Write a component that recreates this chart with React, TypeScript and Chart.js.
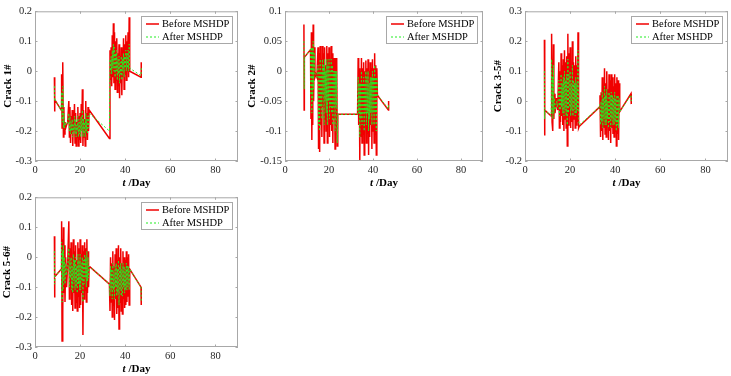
import React, { useEffect, useRef } from 'react';
import { Chart, registerables } from 'chart.js';

Chart.register(...registerables);

// ---------- data ----------
const T = [
  8.6, 8.7, 8.8,
  11.6, 11.8, 12.0, 12.2, 12.4, 12.6, 12.8, 13.0, 13.3, 13.6, 14.0, 14.5,
  15.0, 15.25, 15.5, 15.75, 16.0, 16.25, 16.5, 16.75, 17.0, 17.25, 17.5, 17.75, 18.0, 18.25, 18.5, 18.75,
  19.0, 19.25, 19.5, 19.75, 20.0, 20.25, 20.5, 20.75, 21.0, 21.25, 21.5, 21.75, 22.0, 22.25, 22.5, 22.75,
  23.0, 23.25, 23.5, 23.75, 24.0,
  33.0, 33.25, 33.5, 33.75, 34.0, 34.25, 34.5, 34.75, 35.0, 35.25, 35.5, 35.75, 36.0, 36.25, 36.5, 36.75,
  37.0, 37.25, 37.5, 37.75, 38.0, 38.25, 38.5, 38.75, 39.0, 39.25, 39.5, 39.75, 40.0, 40.25, 40.5, 40.75,
  41.0, 41.25, 41.5, 41.75, 42.0,
  47.0, 47.1,
];

const CRACK1_BEFORE = [
  -0.02, -0.135, -0.095,
  -0.13, -0.01, -0.19, -0.14, 0.03, -0.22, -0.12, -0.21, -0.17, -0.19, -0.18, -0.17,
  -0.10, -0.22, -0.12, -0.24, -0.15, -0.21, -0.13, -0.25, -0.16, -0.20, -0.11, -0.24, -0.14, -0.25, -0.17, -0.22,
  -0.12, -0.25, -0.15, -0.23, -0.14, -0.24, -0.11, -0.20, -0.06, -0.25, -0.13, -0.22, -0.16, -0.25, -0.10, -0.21,
  -0.14, -0.23, -0.12, -0.20, -0.13,
  -0.225, 0.07, -0.03, 0.08, -0.05, 0.12, -0.02, 0.16, -0.04, 0.13, -0.06, 0.10, -0.03, 0.11, -0.07, 0.06,
  -0.05, 0.09, -0.09, 0.05, -0.04, 0.08, -0.08, 0.07, -0.02, 0.11, -0.06, 0.09, -0.01, 0.12, -0.03, 0.10,
  0.00, 0.13, -0.02, 0.18, 0.00,
  -0.02, 0.03,
];
const CRACK1_AFTER = [
  -0.05, -0.10, -0.095,
  -0.13, -0.07, -0.17, -0.14, -0.05, -0.19, -0.14, -0.19, -0.17, -0.18, -0.18, -0.17,
  -0.14, -0.20, -0.15, -0.21, -0.17, -0.20, -0.16, -0.22, -0.18, -0.20, -0.15, -0.21, -0.16, -0.22, -0.18, -0.20,
  -0.15, -0.22, -0.17, -0.21, -0.16, -0.22, -0.15, -0.20, -0.13, -0.22, -0.16, -0.21, -0.17, -0.22, -0.14, -0.20,
  -0.16, -0.21, -0.15, -0.19, -0.14,
  -0.20, 0.04, 0.00, 0.05, -0.01, 0.07, 0.01, 0.09, 0.00, 0.08, -0.02, 0.06, 0.00, 0.07, -0.03, 0.04,
  -0.01, 0.05, -0.04, 0.03, -0.01, 0.05, -0.03, 0.04, 0.00, 0.06, -0.02, 0.05, 0.01, 0.07, 0.00, 0.06,
  0.01, 0.07, 0.00, 0.09, 0.01,
  -0.015, 0.01,
];

const CRACK2_BEFORE = [
  0.078, -0.065, 0.023,
  0.036, -0.08, 0.065, -0.115, 0.062, -0.09, 0.078, -0.05, 0.04, -0.01, -0.005, -0.01,
  0.04, -0.13, 0.03, -0.135, 0.042, -0.09, 0.02, -0.11, 0.042, -0.06, 0.03, -0.12, 0.04, -0.08, 0.01, -0.10,
  0.042, -0.12, 0.03, -0.07, 0.04, -0.11, 0.02, -0.09, 0.042, -0.10, 0.03, -0.12, 0.022, -0.08, 0.022, -0.13,
  0.022, -0.09, 0.022, -0.125, -0.072,
  -0.072, 0.022, -0.09, 0.005, -0.15, 0.0, -0.11, 0.022, -0.12, 0.005, -0.10, 0.015, -0.14, 0.0, -0.09, 0.018,
  -0.12, 0.005, -0.10, 0.02, -0.14, 0.0, -0.11, 0.015, -0.09, 0.005, -0.13, 0.02, -0.10, 0.005, -0.12, 0.03,
  -0.10, 0.01, -0.14, 0.005, -0.04,
  -0.065, -0.05,
];
const CRACK2_AFTER = [
  0.05, -0.03, 0.023,
  0.036, -0.04, 0.04, -0.07, 0.04, -0.05, 0.05, -0.03, 0.03, -0.005, -0.005, -0.01,
  0.01, -0.09, 0.00, -0.10, 0.02, -0.06, 0.00, -0.08, 0.02, -0.04, 0.01, -0.09, 0.02, -0.05, 0.00, -0.07,
  0.02, -0.09, 0.01, -0.05, 0.02, -0.08, 0.00, -0.06, 0.02, -0.07, 0.01, -0.09, 0.00, -0.06, 0.00, -0.10,
  0.00, -0.06, 0.00, -0.12, -0.072,
  -0.072, -0.01, -0.07, -0.02, -0.11, -0.02, -0.08, 0.00, -0.09, -0.02, -0.07, -0.01, -0.10, -0.02, -0.07, 0.00,
  -0.09, -0.01, -0.07, 0.00, -0.10, -0.02, -0.08, -0.01, -0.07, -0.01, -0.09, 0.00, -0.07, -0.01, -0.09, 0.01,
  -0.07, -0.01, -0.10, -0.01, -0.04,
  -0.063, -0.055,
];

const CRACK35_BEFORE = [
  0.205, -0.115, -0.03,
  -0.05, 0.225, -0.07, 0.14, -0.10, 0.19, -0.06, 0.025, -0.04, -0.02, 0.01, -0.03,
  0.13, -0.09, 0.10, -0.07, 0.16, -0.05, 0.12, -0.08, 0.14, -0.10, 0.17, -0.06, 0.13, -0.09, 0.15, -0.15,
  0.225, -0.08, 0.16, -0.05, 0.18, -0.09, 0.12, -0.07, 0.20, -0.10, 0.13, -0.06, 0.12, -0.09, 0.15, -0.08,
  0.12, -0.07, 0.23, -0.09, -0.085,
  -0.02, 0.02, -0.12, 0.03, -0.10, 0.08, -0.13, 0.05, -0.09, 0.11, -0.11, 0.06, -0.12, 0.10, -0.08, 0.04,
  -0.13, 0.09, -0.10, 0.07, -0.14, 0.09, -0.09, 0.08, -0.11, 0.05, -0.12, 0.09, -0.10, 0.06, -0.15, 0.08,
  -0.11, 0.07, -0.13, 0.06, -0.035,
  0.025, -0.01,
];
const CRACK35_AFTER = [
  0.10, -0.06, -0.03,
  -0.05, 0.14, -0.04, 0.08, -0.06, 0.12, -0.04, 0.01, -0.03, -0.02, 0.00, -0.02,
  0.07, -0.05, 0.05, -0.03, 0.09, -0.02, 0.06, -0.04, 0.08, -0.05, 0.10, -0.03, 0.07, -0.05, 0.09, -0.08,
  0.14, -0.04, 0.09, -0.02, 0.10, -0.05, 0.06, -0.03, 0.12, -0.05, 0.07, -0.03, 0.06, -0.05, 0.08, -0.04,
  0.06, -0.03, 0.17, -0.05, -0.08,
  -0.02, -0.01, -0.08, 0.00, -0.07, 0.03, -0.09, 0.01, -0.06, 0.05, -0.08, 0.02, -0.08, 0.04, -0.06, 0.00,
  -0.09, 0.03, -0.07, 0.02, -0.09, 0.03, -0.06, 0.02, -0.08, 0.01, -0.08, 0.03, -0.07, 0.01, -0.10, 0.02,
  -0.08, 0.02, -0.09, 0.01, -0.035,
  0.02, 0.00,
];

const CRACK56_BEFORE = [
  0.07, -0.135, -0.065,
  -0.04, 0.12, -0.28, 0.06, -0.19, 0.10, -0.12, 0.04, -0.15, 0.00, -0.10, -0.02,
  0.12, -0.14, 0.03, -0.10, 0.05, -0.16, 0.00, -0.18, 0.06, -0.12, 0.02, -0.17, 0.04, -0.15, -0.01, -0.18,
  0.05, -0.13, 0.03, -0.17, 0.06, -0.16, 0.01, -0.12, 0.04, -0.26, 0.02, -0.14, 0.05, -0.11, 0.03, -0.15,
  0.06, -0.12, 0.02, -0.10, -0.03,
  -0.09, -0.18, 0.00, -0.15, -0.02, -0.20, 0.02, -0.16, -0.03, -0.21, 0.01, -0.14, 0.03, -0.19, -0.01, -0.17,
  0.04, -0.24, 0.00, -0.15, 0.03, -0.18, -0.02, -0.19, 0.02, -0.14, 0.00, -0.17, -0.01, -0.16, 0.02, -0.15,
  0.00, -0.13, 0.01, -0.16, -0.04,
  -0.10, -0.16,
];
const CRACK56_AFTER = [
  0.02, -0.09, -0.065,
  -0.04, 0.05, -0.15, 0.02, -0.11, 0.04, -0.08, 0.00, -0.09, -0.02, -0.06, -0.03,
  0.03, -0.10, -0.01, -0.07, 0.00, -0.11, -0.03, -0.12, 0.01, -0.08, -0.01, -0.11, 0.00, -0.10, -0.03, -0.12,
  0.01, -0.09, -0.01, -0.11, 0.01, -0.11, -0.02, -0.08, 0.00, -0.15, -0.01, -0.09, 0.01, -0.07, 0.00, -0.10,
  0.02, -0.08, 0.00, -0.07, -0.03,
  -0.09, -0.13, -0.03, -0.11, -0.04, -0.14, -0.02, -0.11, -0.05, -0.14, -0.03, -0.10, -0.02, -0.13, -0.04, -0.12,
  -0.01, -0.16, -0.03, -0.11, -0.02, -0.13, -0.04, -0.13, -0.02, -0.10, -0.03, -0.12, -0.04, -0.11, -0.02, -0.11,
  -0.03, -0.10, -0.03, -0.11, -0.04,
  -0.10, -0.15,
];

const X_TICKS = [0, 20, 40, 60, 80];
const X_LABELS = ['0', '20', '40', '60', '80'];
const Y_TICKS_A = [-0.3, -0.2, -0.1, 0, 0.1, 0.2];
const Y_LABELS_A = ['-0.3', '-0.2', '-0.1', '0', '0.1', '0.2'];
const Y_TICKS_B = [-0.15, -0.1, -0.05, 0, 0.05, 0.1];
const Y_LABELS_B = ['-0.15', '-0.1', '-0.05', '0', '0.05', '0.1'];
const Y_TICKS_C = [-0.2, -0.1, 0, 0.1, 0.2, 0.3];
const Y_LABELS_C = ['-0.2', '-0.1', '0', '0.1', '0.2', '0.3'];

const SERIES_NAMES = ['Before MSHDP', 'After MSHDP'];
const PANEL_TITLES = ['Crack 1#', 'Crack 2#', 'Crack 3-5#', 'Crack 5-6#'];

// ---------- style ----------
const FONT = '"Liberation Serif", "Times New Roman", serif';
const AXIS_COLOR = '#a8a8a8';
const TICK_TEXT = '#262626';
const RED = '#f00000';
const GREEN = '#22ee22';

type Panel = {
  title: string;
  L: number; T: number; R: number; B: number; titleX: number;
  yTicks: number[]; yLabels: string[];
  before: number[]; after: number[];
};

const PANELS: Panel[] = [
  { title: PANEL_TITLES[0], L: 35, T: 7, R: 238, B: 161, titleX: 9, yTicks: Y_TICKS_A, yLabels: Y_LABELS_A, before: CRACK1_BEFORE, after: CRACK1_AFTER },
  { title: PANEL_TITLES[1], L: 285, T: 7, R: 483, B: 161, titleX: 253, yTicks: Y_TICKS_B, yLabels: Y_LABELS_B, before: CRACK2_BEFORE, after: CRACK2_AFTER },
  { title: PANEL_TITLES[2], L: 525, T: 7, R: 728, B: 161, titleX: 499, yTicks: Y_TICKS_C, yLabels: Y_LABELS_C, before: CRACK35_BEFORE, after: CRACK35_AFTER },
  { title: PANEL_TITLES[3], L: 35, T: 193, R: 238, B: 347, titleX: 8, yTicks: Y_TICKS_A, yLabels: Y_LABELS_A, before: CRACK56_BEFORE, after: CRACK56_AFTER },
];

const PAD_TOP = 5;
const PAD_RIGHT = 3;
const X_AXIS_H = 32;

const decorPlugin = {
  id: 'decor',
  afterDraw(chart: any) {
    const { ctx, chartArea: a, scales } = chart;
    ctx.save();
    // box
    ctx.strokeStyle = AXIS_COLOR;
    ctx.lineWidth = 1;
    ctx.setLineDash([]);
    ctx.strokeRect(a.left + 0.5, a.top + 0.5, a.right - a.left - 1, a.bottom - a.top - 1);
    // inward ticks
    ctx.beginPath();
    const xs = scales.x, ys = scales.y;
    xs.ticks.forEach((t: any) => {
      const px = Math.round(xs.getPixelForValue(t.value)) + 0.5;
      ctx.moveTo(px, a.bottom); ctx.lineTo(px, a.bottom - 2.5);
      ctx.moveTo(px, a.top); ctx.lineTo(px, a.top + 2.5);
    });
    ys.ticks.forEach((t: any) => {
      const py = Math.round(ys.getPixelForValue(t.value)) + 0.5;
      ctx.moveTo(a.left, py); ctx.lineTo(a.left + 2.5, py);
      ctx.moveTo(a.right, py); ctx.lineTo(a.right - 2.5, py);
    });
    ctx.stroke();

    // x title: italic bold "t" + bold " /Day"
    const fItal = `italic bold 11px ${FONT}`;
    const fBold = `bold 11px ${FONT}`;
    const p1 = 't';
    const p2 = ' /Day';
    ctx.font = fItal;
    const w1 = ctx.measureText(p1).width;
    ctx.font = fBold;
    const w2 = ctx.measureText(p2).width;
    const cx = (a.left + a.right) / 2;
    const ty = a.bottom + 22;
    const x0 = cx - (w1 + w2) / 2;
    ctx.fillStyle = '#000';
    ctx.textBaseline = 'middle';
    ctx.textAlign = 'left';
    ctx.font = fItal;
    ctx.fillText(p1, x0, ty);
    ctx.font = fBold;
    ctx.fillText(p2, x0 + w1, ty);

    // legend
    const ds = chart.data.datasets;
    ctx.font = `10.5px ${FONT}`;
    const tw = Math.max(...ds.map((d: any) => ctx.measureText(d.label).width));
    const boxW = Math.round(5 + 13 + 3 + tw + 3);
    const boxH = 27;
    const bx = Math.round(a.right - 6 - boxW);
    const by = Math.round(a.top + 5);
    ctx.fillStyle = '#ffffff';
    ctx.fillRect(bx, by, boxW, boxH);
    ctx.strokeStyle = AXIS_COLOR;
    ctx.lineWidth = 1;
    ctx.strokeRect(bx + 0.5, by + 0.5, boxW, boxH);
    ds.forEach((d: any, i: number) => {
      const cy = by + 8 + i * 13;
      ctx.strokeStyle = d.borderColor;
      ctx.lineWidth = d.borderWidth;
      ctx.setLineDash(d.borderDash || []);
      ctx.beginPath();
      ctx.moveTo(bx + 5, cy);
      ctx.lineTo(bx + 18, cy);
      ctx.stroke();
      ctx.setLineDash([]);
      ctx.fillStyle = '#000';
      ctx.textBaseline = 'middle';
      ctx.fillText(d.label, bx + 21, cy + 0.5);
    });
    ctx.restore();
  },
};

function SubPlot({ p }: { p: Panel }) {
  const ref = useRef<HTMLCanvasElement | null>(null);
  const canvasLeft = Math.round(p.titleX - 6.6);
  const yW = p.L - canvasLeft;
  const canvasTop = p.T - PAD_TOP;
  const width = yW + (p.R - p.L) + PAD_RIGHT;
  const height = PAD_TOP + (p.B - p.T) + X_AXIS_H;

  useEffect(() => {
    if (!ref.current) return;
    const yMin = p.yTicks[0];
    const yMax = p.yTicks[p.yTicks.length - 1];
    const chart = new Chart(ref.current, {
      type: 'line',
      data: {
        datasets: [
          {
            label: SERIES_NAMES[0],
            data: T.map((t, i) => ({ x: t, y: p.before[i] })),
            borderColor: RED,
            borderWidth: 1.5,
            pointRadius: 0,
            tension: 0,
            order: 2,
          },
          {
            label: SERIES_NAMES[1],
            data: T.map((t, i) => ({ x: t, y: p.after[i] })),
            borderColor: GREEN,
            borderWidth: 1,
            borderDash: [2, 2],
            pointRadius: 0,
            tension: 0,
            order: 1,
          },
        ],
      },
      options: {
        responsive: false,
        animation: false,
        devicePixelRatio: 1,
        layout: { padding: { top: PAD_TOP, right: PAD_RIGHT, left: 0, bottom: 0 } },
        plugins: { legend: { display: false }, tooltip: { enabled: false } },
        scales: {
          x: {
            type: 'linear',
            min: 0,
            max: 90,
            grid: { display: false, drawTicks: false },
            border: { display: false },
            afterBuildTicks: (axis: any) => { axis.ticks = X_TICKS.map((v) => ({ value: v })); },
            afterFit: (axis: any) => { axis.height = X_AXIS_H; },
            ticks: {
              padding: 3,
              maxRotation: 0,
              color: TICK_TEXT,
              font: { family: FONT, size: 10.5 },
              callback: (v: any) => X_LABELS[X_TICKS.indexOf(Number(v))] ?? '',
            },
          },
          y: {
            type: 'linear',
            min: yMin,
            max: yMax,
            grid: { display: false, drawTicks: false },
            border: { display: false },
            afterBuildTicks: (axis: any) => { axis.ticks = p.yTicks.map((v) => ({ value: v })); },
            afterFit: (axis: any) => { axis.width = yW; },
            ticks: {
              padding: 3,
              color: TICK_TEXT,
              font: { family: FONT, size: 10.5 },
              callback: (v: any) => {
                const idx = p.yTicks.findIndex((t) => Math.abs(t - Number(v)) < 1e-9);
                return idx >= 0 ? p.yLabels[idx] : '';
              },
            },
            title: {
              display: true,
              text: p.title,
              color: '#000',
              padding: 0,
              font: { family: FONT, size: 11, weight: 'bold' },
            },
          },
        },
      },
      plugins: [decorPlugin],
    } as any);
    return () => chart.destroy();
  }, []);

  return (
    <canvas
      ref={ref}
      width={width}
      height={height}
      style={{ position: 'absolute', left: canvasLeft, top: canvasTop, width, height }}
    />
  );
}

export default function App() {
  return (
    <div style={{ position: 'fixed', left: 0, top: 0, width: 731, height: 376, background: '#fff', overflow: 'hidden' }}>
      {PANELS.map((p, i) => (
        <SubPlot key={i} p={p} />
      ))}
    </div>
  );
}
